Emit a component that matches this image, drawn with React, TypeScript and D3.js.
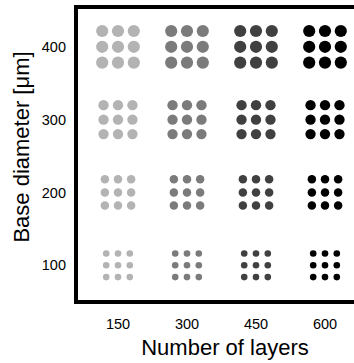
import React, { useEffect, useRef } from "react";
import * as d3 from "d3";

// number of layers (columns) and base diameter in µm (rows)
const layers = [150, 300, 450, 600];
const diameters = [100, 200, 300, 400];
const layerColors = ["#b3b3b3", "#7b7b7b", "#404040", "#000000"];
const gridOffsets = [-1, 0, 1];

const W = 354;
const H = 363;
const font = "'Liberation Sans', Arial, sans-serif";

export default function App() {
  const ref = useRef<SVGSVGElement | null>(null);

  useEffect(() => {
    const svg = d3.select(ref.current);
    svg.selectAll("*").remove();

    const x = d3.scaleLinear().domain([150, 600]).range([118, 325]);
    const y = d3.scaleLinear().domain([100, 400]).range([265.3, 46.8]);
    // dot size and spacing grow with base diameter
    const rScale = d3.scaleLinear().domain([100, 400]).range([3.3, 6.1]);
    const spacing = d3.scaleLinear().domain([100, 400]).range([11.8, 15.8]);
    const color = d3.scaleOrdinal<number, string>().domain(layers).range(layerColors);

    // frame
    svg
      .append("rect")
      .attr("x", 76)
      .attr("y", 7)
      .attr("width", 400)
      .attr("height", 295)
      .attr("fill", "none")
      .attr("stroke", "#000")
      .attr("stroke-width", 4);

    const cells = layers.flatMap((l) => diameters.map((d) => ({ l, d })));
    const dots = cells.flatMap((c) =>
      gridOffsets.flatMap((i) => gridOffsets.map((j) => ({ ...c, i, j })))
    );

    svg
      .append("g")
      .selectAll("circle")
      .data(dots)
      .enter()
      .append("circle")
      .attr("cx", (p) => x(p.l) + p.i * spacing(p.d))
      .attr("cy", (p) => y(p.d) + p.j * spacing(p.d))
      .attr("r", (p) => rScale(p.d))
      .attr("fill", (p) => color(p.l));

    // y tick labels
    svg
      .append("g")
      .selectAll("text")
      .data(diameters)
      .enter()
      .append("text")
      .attr("x", 66)
      .attr("y", (d) => y(d))
      .attr("dy", "0.35em")
      .attr("text-anchor", "end")
      .attr("font-family", font)
      .attr("font-size", 14.5)
      .text((d) => d);

    // x tick labels
    svg
      .append("g")
      .selectAll("text")
      .data(layers)
      .enter()
      .append("text")
      .attr("x", (d) => x(d))
      .attr("y", 328.5)
      .attr("text-anchor", "middle")
      .attr("font-family", font)
      .attr("font-size", 14.5)
      .text((d) => d);

    svg
      .append("text")
      .attr("x", 225)
      .attr("y", 354.5)
      .attr("text-anchor", "middle")
      .attr("font-family", font)
      .attr("font-size", 22)
      .text("Number of layers");

    svg
      .append("text")
      .attr("transform", "translate(28.5,147) rotate(-90)")
      .attr("text-anchor", "middle")
      .attr("font-family", font)
      .attr("font-size", 22)
      .text("Base diameter [μm]");
  }, []);

  return (
    <svg
      ref={ref}
      width={W}
      height={H}
      style={{ position: "absolute", left: 0, top: 0, background: "#fff" }}
    />
  );
}
